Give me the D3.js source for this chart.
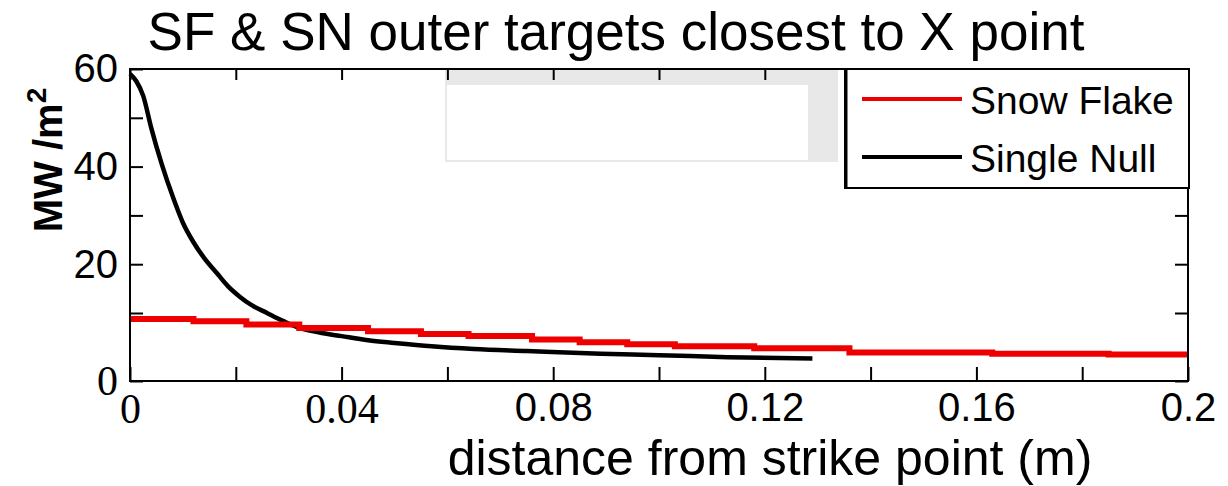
<!DOCTYPE html>
<html>
<head>
<meta charset="utf-8">
<script src="https://cdn.jsdelivr.net/npm/d3@7"></script>
<style>
  html, body { margin: 0; padding: 0; background: #fff; }
  svg { display: block; }
  text { font-family: "Liberation Sans", Arial, Helvetica, sans-serif; fill: #000; }
</style>
</head>
<body>
<svg id="chart" width="1228" height="486"></svg>
<script>
// Heat flux profiles on the outer divertor targets (MW/m^2 vs distance from strike point)
const seriesNames = ["Snow Flake", "Single Null"];
const seriesColors = ["#ee0000", "#000000"];

// Snow Flake: stepped profile
const sfDistance = [0, 0.012, 0.022, 0.032, 0.045, 0.055, 0.064, 0.076, 0.085, 0.094, 0.103, 0.118, 0.136, 0.163, 0.185, 0.2];
const sfFlux     = [9.1, 8.8, 8.3, 7.8, 7.3, 6.9, 6.6, 6.1, 5.7, 5.4, 5.1, 4.8, 4.2, 4.0, 3.9, 3.9];

// Single Null: steep decay near the strike point
const snDistance = [0, 0.0012, 0.0025, 0.004, 0.006, 0.0082, 0.010, 0.012, 0.014, 0.0164, 0.0185, 0.0208, 0.023, 0.0259, 0.029, 0.032, 0.036, 0.04, 0.045, 0.05, 0.057, 0.065, 0.075, 0.089, 0.1, 0.113, 0.129];
const snFlux     = [59, 57.5, 54.5, 48, 40.5, 33.5, 28.5, 24.5, 21.3, 18.2, 15.5, 13.3, 11.6, 10.0, 8.8, 7.8, 7.1, 6.6, 6.0, 5.6, 5.1, 4.7, 4.4, 4.0, 3.8, 3.5, 3.3];

const xTickValues = [0, 0.02, 0.04, 0.06, 0.08, 0.1, 0.12, 0.14, 0.16, 0.18, 0.2];
const xTickLabels = ["0", "", "0.04", "", "0.08", "", "0.12", "", "0.16", "", "0.2"];
const yTickValues = [0, 10, 20, 30, 40, 50, 60];
const yTickLabels = ["0", "", "20", "", "40", "", "60"];

const titleText = "SF & SN outer targets closest to X point";
const xLabelText = "distance from strike point (m)";

const svg = d3.select("#chart");
const box = { left: 130, right: 1188, top: 69, bottom: 381 };

const x = d3.scaleLinear().domain([0, 0.2]).range([box.left, box.right]);
const y = d3.scaleLinear().domain([0, 10, 60]).range([box.bottom, 313, box.top]);

// faint grey frame left inside the axes
const g0 = svg.append("g");
g0.append("rect").attr("x", 445).attr("y", 70).attr("width", 393).attr("height", 92).attr("fill", "#e8e8e8");
g0.append("rect").attr("x", 447).attr("y", 85).attr("width", 361).attr("height", 75).attr("fill", "#ffffff");

// series lines
svg.append("path")
  .datum(d3.zip(snDistance, snFlux))
  .attr("fill", "none")
  .attr("stroke", seriesColors[1])
  .attr("stroke-width", 4.5)
  .attr("stroke-linejoin", "round")
  .attr("d", d3.line().x(d => x(d[0])).y(d => y(d[1])).curve(d3.curveMonotoneX));

svg.append("path")
  .datum(d3.zip(sfDistance, sfFlux))
  .attr("fill", "none")
  .attr("stroke", seriesColors[0])
  .attr("stroke-width", 6)
  .attr("d", d3.line().x(d => x(d[0])).y(d => y(d[1])).curve(d3.curveStepAfter));

// axes (ticks point inward)
const serifValues = new Set([0, 0.04]);
const xAxis = d3.axisBottom(x).tickValues(xTickValues).tickSize(-14).tickPadding(12)
  .tickFormat((d, i) => xTickLabels[i]);
const xTop = d3.axisTop(x).tickValues(xTickValues).tickSize(-11).tickFormat("");
const yAxis = d3.axisLeft(y).tickValues(yTickValues).tickSize(-13).tickPadding(12)
  .tickFormat((d, i) => yTickLabels[i]);
const yRight = d3.axisRight(y).tickValues(yTickValues).tickSize(-13).tickFormat("");

const gx = svg.append("g").attr("transform", `translate(0,${box.bottom})`).call(xAxis);
const gxt = svg.append("g").attr("transform", `translate(0,${box.top})`).call(xTop);
const gy = svg.append("g").attr("transform", `translate(${box.left},0)`).call(yAxis);
const gyr = svg.append("g").attr("transform", `translate(${box.right},0)`).call(yRight);

[gx, gxt, gy, gyr].forEach(g => {
  g.select(".domain").remove();
  g.selectAll(".tick line").attr("stroke", "#000").attr("stroke-width", 2);
  g.selectAll(".tick text").attr("font-size", 40).attr("fill", "#000")
    .style("font-family", "'Liberation Sans', Arial, sans-serif");
});
// a few labels are set in a serif face
gx.selectAll(".tick text").filter(d => serifValues.has(d))
  .attr("font-size", 42)
  .style("font-family", "'Liberation Serif', 'Times New Roman', serif");
gy.selectAll(".tick text").filter(d => d === 0)
  .attr("font-size", 42)
  .style("font-family", "'Liberation Serif', 'Times New Roman', serif");

// plot frame
svg.append("rect")
  .attr("x", box.left).attr("y", box.top)
  .attr("width", box.right - box.left).attr("height", box.bottom - box.top)
  .attr("fill", "none").attr("stroke", "#000").attr("stroke-width", 2);

// legend
const lg = svg.append("g");
lg.append("rect").attr("x", 845).attr("y", 69).attr("width", 344).attr("height", 119)
  .attr("fill", "#fff").attr("stroke", "#000").attr("stroke-width", 2);
lg.append("line").attr("x1", 846).attr("x2", 846).attr("y1", 69).attr("y2", 188)
  .attr("stroke", "#000").attr("stroke-width", 3);
const legendRows = [99, 157];
seriesNames.forEach((name, i) => {
  lg.append("line")
    .attr("x1", 862).attr("x2", 962)
    .attr("y1", legendRows[i]).attr("y2", legendRows[i])
    .attr("stroke", seriesColors[i]).attr("stroke-width", 4);
  lg.append("text")
    .attr("x", 970).attr("y", legendRows[i] + 15)
    .attr("font-size", 39)
    .attr("fill", "#222")
    .text(name);
});

// title and axis labels
svg.append("text")
  .attr("x", 616).attr("y", 50)
  .attr("text-anchor", "middle")
  .attr("font-size", 53)
  .text(titleText);

svg.append("text")
  .attr("x", 770).attr("y", 475)
  .attr("text-anchor", "middle")
  .attr("font-size", 50)
  .text(xLabelText);

const yl = svg.append("text")
  .attr("transform", "translate(62,160) rotate(-90)")
  .attr("text-anchor", "middle")
  .attr("font-size", 40)
  .attr("font-weight", "bold");
yl.append("tspan").text("MW /m");
yl.append("tspan").attr("font-size", 28).attr("dy", -16).text("2");
</script>
</body>
</html>
